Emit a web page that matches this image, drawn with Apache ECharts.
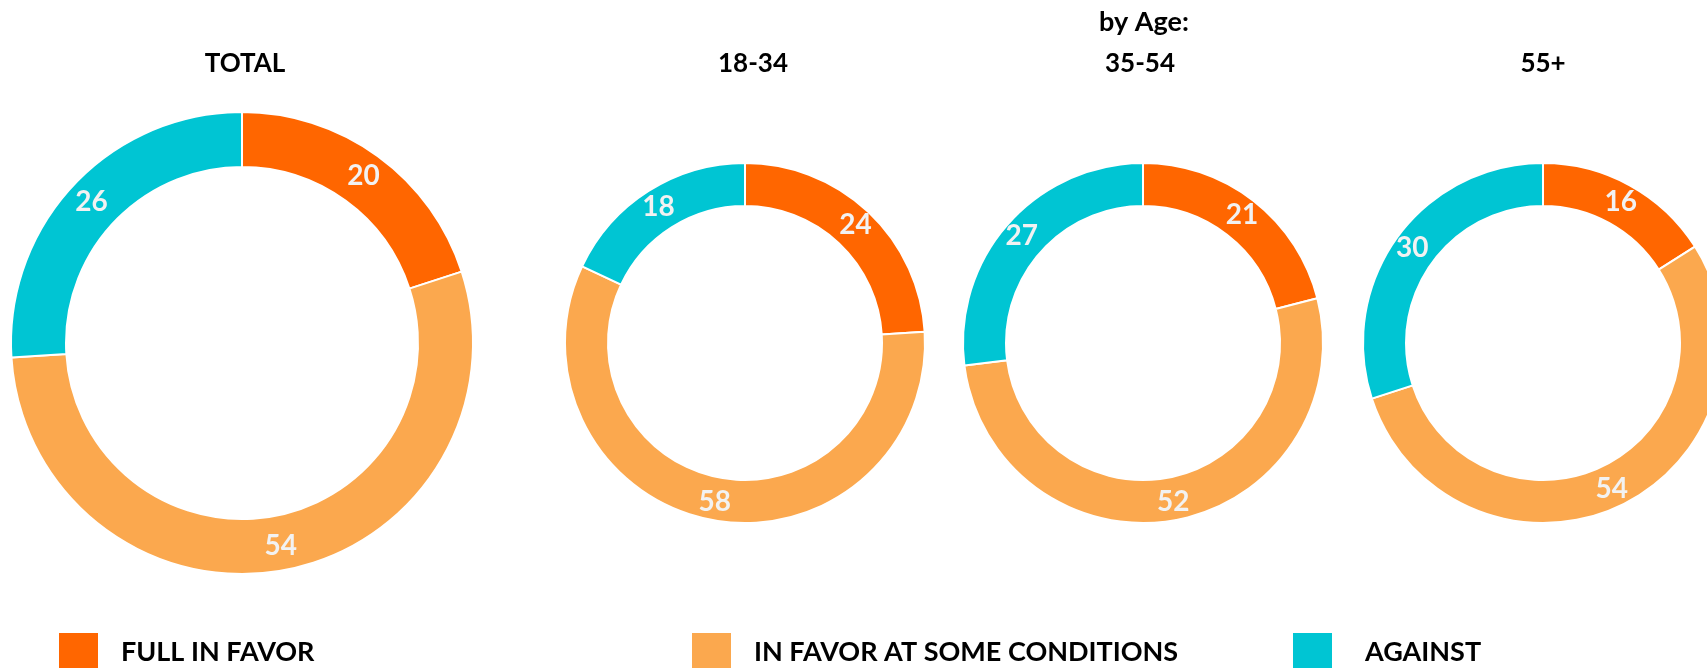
<!DOCTYPE html>
<html>
<head>
<meta charset="utf-8">
<script src="https://cdn.jsdelivr.net/npm/echarts@6/dist/echarts.min.js"></script>
<style>
html,body{margin:0;padding:0;background:#fff;}
#chart{width:1707px;height:668px;}
</style>
</head>
<body>
<div id="chart"></div>
<script>
const categories = ['FULL IN FAVOR', 'IN FAVOR AT SOME CONDITIONS', 'AGAINST'];
const groups = ['TOTAL', '18-34', '35-54', '55+'];
const totalValues = [20, 54, 26];
const age1834Values = [24, 58, 18];
const age3554Values = [21, 52, 27];
const age55Values = [16, 54, 30];
const groupTitle = 'by Age:';
const colors = ['#FF6600', '#FBA84E', '#00C5D3'];

const valueSets = [totalValues, age1834Values, age3554Values, age55Values];
const centers = [[242, 343], [745, 343], [1143, 343], [1543, 343]];
const radii = [[176, 231], [137, 180], [137, 180], [137, 180]];
const titleX = [245, 753, 1140, 1543];
const legendX = [57, 690, 1291];
const legendTextGap = [17, 17, 27];

const FONT = 'Lato';

const chart = echarts.init(document.getElementById('chart'));

const series = valueSets.map((vals, i) => ({
  type: 'pie',
  name: groups[i],
  center: centers[i],
  radius: radii[i],
  startAngle: 90,
  clockwise: true,
  avoidLabelOverlap: false,
  animation: false,
  silent: true,
  itemStyle: { borderColor: '#ffffff', borderWidth: 2 },
  label: {
    show: true,
    position: 'inside',
    formatter: '{c}',
    color: '#F2F2F2',
    fontFamily: FONT,
    fontWeight: 'bold',
    fontSize: 28
  },
  labelLine: { show: false },
  data: categories.map((c, k) => ({ name: c, value: vals[k] }))
}));

const titles = groups.map((g, i) => ({
  text: g,
  left: titleX[i],
  top: 51,
  padding: 0,
  textAlign: 'center',
  textStyle: { fontFamily: FONT, fontWeight: 'bold', fontSize: 26, color: '#000' }
}));
titles.push({
  text: groupTitle,
  left: 1144,
  top: 9,
  padding: 0,
  textAlign: 'center',
  textStyle: { fontFamily: FONT, fontWeight: 'bold', fontSize: 27, color: '#000' }
});

const legends = categories.map((c, k) => ({
  data: [c],
  left: legendX[k],
  top: 631,
  padding: 0,
  orient: 'horizontal',
  icon: 'rect',
  itemWidth: 41,
  itemHeight: 40,
  selectedMode: false,
  textStyle: { fontFamily: FONT, fontWeight: 'bold', fontSize: 27, color: '#000', padding: [6, 0, 0, legendTextGap[k]] }
}));

chart.setOption({
  backgroundColor: '#ffffff',
  color: colors,
  animation: false,
  title: titles,
  legend: legends,
  series: series
});
</script>
</body>
</html>
